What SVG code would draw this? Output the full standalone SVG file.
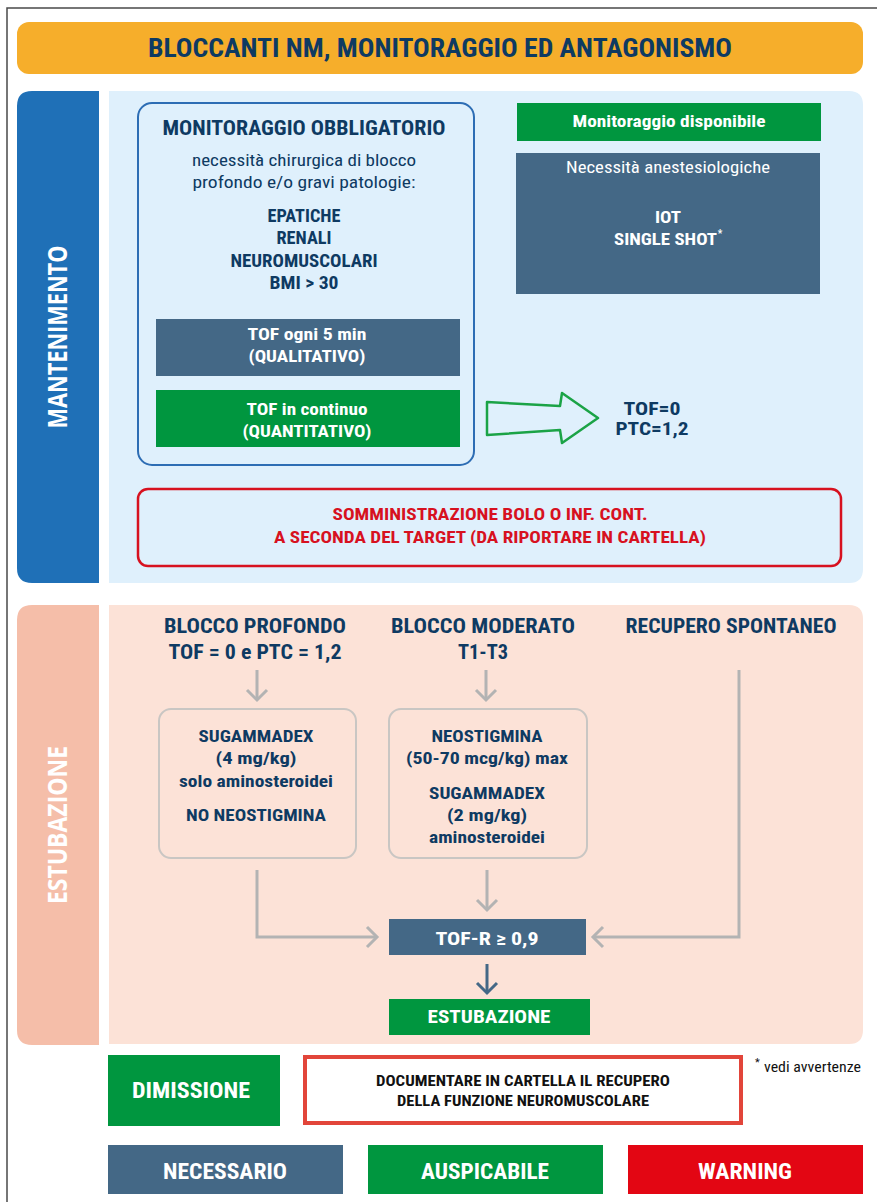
<svg xmlns="http://www.w3.org/2000/svg" width="877" height="1202" viewBox="0 0 877 1202">
<defs>
<style>
.t{font-family:"Liberation Sans Narrow","Roboto Condensed","DejaVu Sans Condensed","Liberation Sans",sans-serif;font-weight:bold;text-anchor:middle}
.r{font-family:"Liberation Sans Narrow","Roboto Condensed","DejaVu Sans Condensed","Liberation Sans",sans-serif;font-weight:normal}
.navy{fill:#0E3A62}
.w{fill:#FFFFFF}
.red{fill:#D7111F}
.blk{fill:#111111}
.slate{fill:#446886}
.green{fill:#00963F}
.gc{fill:none;stroke:#B3B3B3;stroke-width:3}
.dc{fill:none;stroke:#446886;stroke-width:3}
</style>
</defs>
<rect x="0" y="0" width="877" height="1202" fill="#FFFFFF"/>
<path d="M7,1202 L7,8 L877,8" fill="none" stroke="#4A4A4A" stroke-width="1.5"/>

<g id="title">
<rect x="17" y="22" width="846" height="52" rx="12" fill="#F6AE2B"/>
<text class="t navy" x="440" y="57" font-size="26" textLength="584" lengthAdjust="spacingAndGlyphs">BLOCCANTI NM, MONITORAGGIO ED ANTAGONISMO</text>
</g>

<g id="sec-mantenimento">
<path d="M32,91 H99 V583 H32 Q17,583 17,568 V106 Q17,91 32,91 Z" fill="#1F70B7"/>
<path d="M109,91 H849 Q863,91 863,105 V569 Q863,583 849,583 H109 Z" fill="#DFF0FC"/>
<text class="t w" transform="translate(67,337) rotate(-90)" font-size="27" textLength="183" lengthAdjust="spacingAndGlyphs" style="font-family:'Open Sans','Liberation Sans',sans-serif">MANTENIMENTO</text>
</g>

<g id="sec-estubazione">
<path d="M32,605 H99 V1045 H32 Q17,1045 17,1030 V620 Q17,605 32,605 Z" fill="#F5BEA9"/>
<path d="M109,605 H849 Q863,605 863,619 V1030 Q863,1044 849,1044 H109 Z" fill="#FCE2D7"/>
<text class="t w" transform="translate(67,825) rotate(-90)" font-size="27" textLength="158" lengthAdjust="spacingAndGlyphs" style="font-family:'Open Sans','Liberation Sans',sans-serif">ESTUBAZIONE</text>
</g>

<g id="monitoraggio-obbligatorio">
<rect x="138" y="103" width="336" height="362" rx="14" fill="none" stroke="#2D6DB4" stroke-width="2"/>
<text class="t navy" x="304" y="135" font-size="20" textLength="283" lengthAdjust="spacingAndGlyphs">MONITORAGGIO OBBLIGATORIO</text>
<text class="r navy" x="304" y="166" font-size="17" text-anchor="middle" textLength="224" lengthAdjust="spacingAndGlyphs">necessità chirurgica di blocco</text>
<text class="r navy" x="304" y="188" font-size="17" text-anchor="middle" textLength="223" lengthAdjust="spacingAndGlyphs">profondo e/o gravi patologie:</text>
<text class="t navy" x="304" y="222" font-size="17.5" textLength="73" lengthAdjust="spacingAndGlyphs">EPATICHE</text>
<text class="t navy" x="304" y="244" font-size="17.5" textLength="55" lengthAdjust="spacingAndGlyphs">RENALI</text>
<text class="t navy" x="304" y="267" font-size="17.5" textLength="147" lengthAdjust="spacingAndGlyphs">NEUROMUSCOLARI</text>
<text class="t navy" x="304" y="289" font-size="17.5" textLength="69" lengthAdjust="spacingAndGlyphs">BMI &gt; 30</text>
</g>

<g id="tof-qualitativo">
<rect x="156" y="319" width="304" height="57" fill="#446886"/>
<text class="t w" x="307" y="340" font-size="17" textLength="119" lengthAdjust="spacingAndGlyphs">TOF ogni 5 min</text>
<text class="t w" x="307" y="362" font-size="17" textLength="117" lengthAdjust="spacingAndGlyphs">(QUALITATIVO)</text>
</g>

<g id="tof-quantitativo">
<rect x="156" y="390" width="304" height="57" fill="#00963F"/>
<text class="t w" x="307" y="415" font-size="17" textLength="121" lengthAdjust="spacingAndGlyphs">TOF in continuo</text>
<text class="t w" x="307" y="437" font-size="17" textLength="129" lengthAdjust="spacingAndGlyphs">(QUANTITATIVO)</text>
</g>

<g id="monitoraggio-disponibile">
<rect x="517" y="103" width="304" height="38" fill="#00963F"/>
<text class="t w" x="669" y="127" font-size="17" textLength="193" lengthAdjust="spacingAndGlyphs">Monitoraggio disponibile</text>
</g>

<g id="necessita-anestesiologiche">
<rect x="516" y="153" width="304" height="141" fill="#446886"/>
<text class="r w" x="668" y="173" font-size="17" text-anchor="middle" textLength="204" lengthAdjust="spacingAndGlyphs">Necessità anestesiologiche</text>
<text class="t w" x="668" y="223" font-size="17" textLength="26" lengthAdjust="spacingAndGlyphs">IOT</text>
<text class="t w" x="665.5" y="245" font-size="17" textLength="103" lengthAdjust="spacingAndGlyphs">SINGLE SHOT</text>
<text class="t w" x="720" y="237" font-size="10">*</text>
</g>

<g id="target-tof">
<text class="t navy" x="652" y="415" font-size="18" textLength="57" lengthAdjust="spacingAndGlyphs">TOF=0</text>
<text class="t navy" x="652" y="435" font-size="18" textLength="73" lengthAdjust="spacingAndGlyphs">PTC=1,2</text>
</g>

<g id="somministrazione">
<rect x="138" y="489" width="703" height="77" rx="10" fill="none" stroke="#D7111F" stroke-width="2.5"/>
<text class="t red" x="490" y="520" font-size="16.5" textLength="315" lengthAdjust="spacingAndGlyphs">SOMMINISTRAZIONE BOLO O INF. CONT.</text>
<text class="t red" x="490" y="543" font-size="16.5" textLength="432" lengthAdjust="spacingAndGlyphs">A SECONDA DEL TARGET (DA RIPORTARE IN CARTELLA)</text>
</g>

<g id="blocco-profondo">
<text class="t navy" x="255" y="633" font-size="20" textLength="182" lengthAdjust="spacingAndGlyphs">BLOCCO PROFONDO</text>
<text class="t navy" x="255" y="659" font-size="20" textLength="173" lengthAdjust="spacingAndGlyphs">TOF = 0 e PTC = 1,2</text>
</g>
<g id="blocco-moderato">
<text class="t navy" x="483" y="633" font-size="20" textLength="184" lengthAdjust="spacingAndGlyphs">BLOCCO MODERATO</text>
<text class="t navy" x="483" y="659" font-size="20" textLength="50" lengthAdjust="spacingAndGlyphs">T1-T3</text>
</g>
<g id="recupero-spontaneo">
<text class="t navy" x="731" y="633" font-size="20" textLength="211" lengthAdjust="spacingAndGlyphs">RECUPERO SPONTANEO</text>
</g>

<g id="sugammadex-4">
<rect x="159" y="709" width="197" height="149" rx="12" fill="none" stroke="#C9C6C3" stroke-width="2"/>
<text class="t navy" x="256" y="742" font-size="16.5" textLength="115" lengthAdjust="spacingAndGlyphs">SUGAMMADEX</text>
<text class="t navy" x="256" y="764" font-size="16.5" textLength="81" lengthAdjust="spacingAndGlyphs">(4 mg/kg)</text>
<text class="t navy" x="256" y="787" font-size="16.5" textLength="154" lengthAdjust="spacingAndGlyphs">solo aminosteroidei</text>
<text class="t navy" x="256" y="821" font-size="16.5" textLength="140" lengthAdjust="spacingAndGlyphs">NO NEOSTIGMINA</text>
</g>

<g id="neostigmina">
<rect x="389" y="709" width="198" height="149" rx="12" fill="none" stroke="#C9C6C3" stroke-width="2"/>
<text class="t navy" x="487" y="742" font-size="16.5" textLength="111" lengthAdjust="spacingAndGlyphs">NEOSTIGMINA</text>
<text class="t navy" x="487" y="764" font-size="16.5" textLength="162" lengthAdjust="spacingAndGlyphs">(50-70 mcg/kg) max</text>
<text class="t navy" x="487" y="799" font-size="16.5" textLength="116" lengthAdjust="spacingAndGlyphs">SUGAMMADEX</text>
<text class="t navy" x="487" y="821" font-size="16.5" textLength="80" lengthAdjust="spacingAndGlyphs">(2 mg/kg)</text>
<text class="t navy" x="487" y="843" font-size="16.5" textLength="116" lengthAdjust="spacingAndGlyphs">aminosteroidei</text>
</g>

<g id="tof-r">
<rect x="389" y="919" width="197" height="36" fill="#446886"/>
<text class="t w" x="487" y="945" font-size="19" textLength="103" lengthAdjust="spacingAndGlyphs">TOF-R ≥ 0,9</text>
</g>

<g id="estubazione">
<rect x="389" y="999" width="201" height="36" fill="#00963F"/>
<text class="t w" x="489" y="1023" font-size="19" textLength="123" lengthAdjust="spacingAndGlyphs">ESTUBAZIONE</text>
</g>

<g id="connectors">
<path d="M487,402 L560,406 L562,393 L598,418 L562,443 L560,430 L487,435 Z" fill="none" stroke="#1BA346" stroke-width="2.5" stroke-linejoin="round"/>
<path class="gc" d="M257,670 V700"/>
<path class="gc" d="M247,690 L257,700 L267,690"/>
<path class="gc" d="M486,670 V700"/>
<path class="gc" d="M476,690 L486,700 L496,690"/>
<path class="gc" d="M257,870 V937 H377"/>
<path class="gc" d="M367,927 L377,937 L367,947"/>
<path class="gc" d="M487,870 V910"/>
<path class="gc" d="M477,900 L487,910 L497,900"/>
<path class="gc" d="M739,670 V937 H593"/>
<path class="gc" d="M603,927 L593,937 L603,947"/>
<path class="dc" d="M487,964 V993"/>
<path class="dc" d="M477,983 L487,993 L497,983"/>
</g>

<g id="dimissione">
<rect x="108" y="1055" width="172" height="71" fill="#00963F"/>
<text class="t w" x="191" y="1098" font-size="22" textLength="118" lengthAdjust="spacingAndGlyphs">DIMISSIONE</text>
</g>

<g id="documentare">
<rect x="305" y="1057" width="436" height="66" fill="#FFFFFF" stroke="#E2453A" stroke-width="4"/>
<text class="t blk" x="523" y="1086" font-size="15" textLength="294" lengthAdjust="spacingAndGlyphs">DOCUMENTARE IN CARTELLA IL RECUPERO</text>
<text class="t blk" x="523" y="1106" font-size="15" textLength="252" lengthAdjust="spacingAndGlyphs">DELLA FUNZIONE NEUROMUSCOLARE</text>
</g>

<g id="nota">
<text class="r blk" x="755" y="1066" font-size="11">*</text>
<text class="r blk" x="764" y="1072" font-size="15" textLength="97" lengthAdjust="spacingAndGlyphs">vedi avvertenze</text>
</g>

<g id="legenda">
<rect x="108" y="1145" width="235" height="49" fill="#446886"/>
<text class="t w" x="225" y="1179" font-size="22" textLength="124" lengthAdjust="spacingAndGlyphs">NECESSARIO</text>
<rect x="368" y="1145" width="235" height="49" fill="#00963F"/>
<text class="t w" x="485" y="1179" font-size="22" textLength="128" lengthAdjust="spacingAndGlyphs">AUSPICABILE</text>
<rect x="628" y="1145" width="235" height="49" fill="#E30613"/>
<text class="t w" x="745" y="1179" font-size="22" textLength="94" lengthAdjust="spacingAndGlyphs">WARNING</text>
</g>
</svg>
